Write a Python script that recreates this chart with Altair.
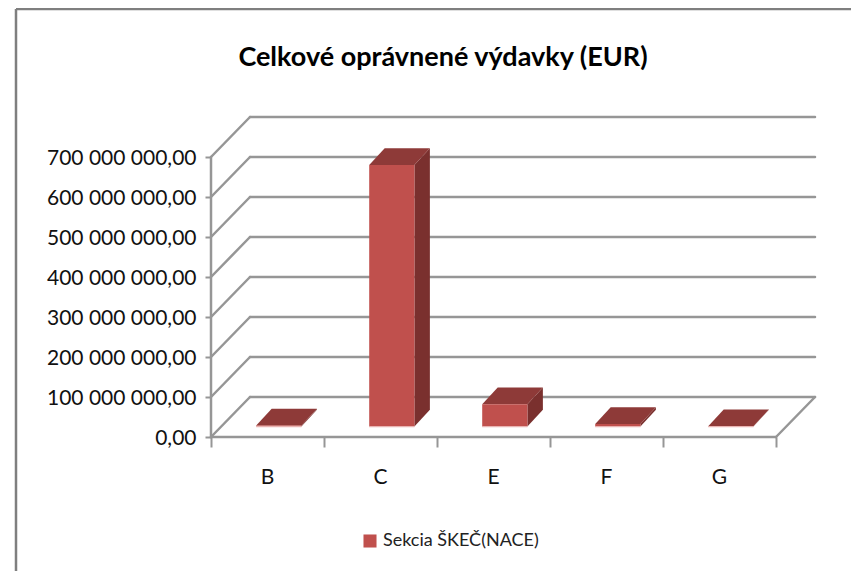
import altair as alt
import pandas as pd

categories = ["B", "C", "E", "F", "G"]
values = [2500000, 654000000, 56000000, 6500000, 1000000]
y_ticks = [0, 100000000, 200000000, 300000000, 400000000, 500000000, 600000000, 700000000]
series_name = "Sekcia ŠKEČ(NACE)"

# 3D projection expressed in data units (category units / EUR)
WALL_DX, WALL_DY = 0.345, 100000000
BASE_DX, BASE_DY = 0.10, 26000000
BAR_DX, BAR_DY = 0.137, 42000000
BAR_HALF = 0.2

GRID = "#969696"
FONT = "Lato"
FACE, TOP, SIDE = "#c0504d", "#8e3a38", "#7a302e"

X = alt.X("x:Q", scale=alt.Scale(domain=[0, 5 + WALL_DX], nice=False),
          axis=alt.Axis(values=[0, 1, 2, 3, 4, 5], labels=False, domain=False, grid=False, title=None,
                        ticks=True, tickSize=10, tickColor=GRID, tickWidth=2))
Y = alt.Y("y:Q", stack=None, scale=alt.Scale(domain=[0, 800000000], nice=False),
          axis=alt.Axis(values=y_ticks, domain=False, grid=False, title=None, tickSize=6, tickColor=GRID,
                        tickWidth=2, labelPadding=9, labelFont=FONT, labelFontSize=21, labelColor="#111111",
                        labelOffset=1.5,
                        labelExpr="replace(replace(format(datum.value,',.2f'),/,/g,' '),'.',',')"))

grid_rows = []
for v in y_ticks:
    grid_rows.append({"x": WALL_DX, "x2": 5 + WALL_DX, "y": v + WALL_DY, "y2": v + WALL_DY})
    grid_rows.append({"x": 0, "x2": WALL_DX, "y": v, "y2": v + WALL_DY})
grid_rows.append({"x": 5, "x2": 5 + WALL_DX, "y": 0, "y2": WALL_DY})
grid_rows.append({"x": 0, "x2": 5, "y": 0, "y2": 0})
grid_rows.append({"x": 0, "x2": 0, "y": 0, "y2": y_ticks[-1]})
grid = alt.Chart(pd.DataFrame(grid_rows)).mark_rule(color=GRID, strokeWidth=2.5, strokeCap="round").encode(
    x=X, x2="x2:Q", y=Y, y2="y2:Q")

front_rows, top_rows, side_rows, edge_rows = [], [], [], []
for i, (c, v) in enumerate(zip(categories, values)):
    x0 = i + 0.5 + BASE_DX - BAR_HALF
    x1 = i + 0.5 + BASE_DX + BAR_HALF
    y0 = BASE_DY
    yv = BASE_DY + v
    front_rows.append({"x": x0, "x2": x1, "y": yv, "y2": y0, "series": series_name})
    edge_rows.append({"x": x0, "x2": x1, "y": y0})
    side_rows += [{"c": c, "x": x1, "y": y0, "y2": yv},
                  {"c": c, "x": x1 + BAR_DX, "y": y0 + BAR_DY, "y2": yv + BAR_DY}]
    top_rows += [{"c": c, "x": x0, "y": yv, "y2": yv},
                 {"c": c, "x": x0 + BAR_DX, "y": yv, "y2": yv + BAR_DY},
                 {"c": c, "x": x1, "y": yv, "y2": yv + BAR_DY},
                 {"c": c, "x": x1 + BAR_DX, "y": yv + BAR_DY, "y2": yv + BAR_DY}]

side = alt.Chart(pd.DataFrame(side_rows)).mark_area(color=SIDE, interpolate="linear").encode(
    x=X, y=Y, y2="y2:Q", detail="c:N")
top = alt.Chart(pd.DataFrame(top_rows)).mark_area(color=TOP, interpolate="linear").encode(
    x=X, y=Y, y2="y2:Q", detail="c:N")
front = alt.Chart(pd.DataFrame(front_rows)).mark_rect().encode(
    x=X, x2="x2:Q", y=Y, y2="y2:Q",
    color=alt.Color("series:N", scale=alt.Scale(domain=[series_name], range=[FACE]),
                    legend=alt.Legend(title=None, orient="none", legendX=150, legendY=415, symbolType="square",
                                      symbolSize=170, labelFont=FONT, labelFontSize=18, labelColor="#222222",
                                      symbolStrokeWidth=0, padding=0, labelOffset=4, labelLimit=300)))
base_edge = alt.Chart(pd.DataFrame(edge_rows)).mark_rule(color="#e9b4b2", strokeWidth=1.2).encode(
    x=X, x2="x2:Q", y=Y)

cat_df = pd.DataFrame({"x": [i + 0.5 for i in range(len(categories))], "y": [0] * len(categories), "label": categories})
cat_text = alt.Chart(cat_df).mark_text(font=FONT, fontSize=21, color="#111111", dy=41).encode(
    x=X, y=Y, text="label:N")

frame_left = alt.Chart(pd.DataFrame({"a": [0]})).mark_rule(color="#7f7f7f", strokeWidth=2.5).encode(
    x=alt.value(-195), y=alt.value(-108), y2=alt.value(460))
frame_top = alt.Chart(pd.DataFrame({"a": [0]})).mark_rule(color="#7f7f7f", strokeWidth=2.5).encode(
    x=alt.value(-195), x2=alt.value(640), y=alt.value(-108))

chart = alt.layer(grid, side, top, front, base_edge, cat_text, frame_left, frame_top).properties(
    width=604, height=320,
    padding={"left": 203, "top": 109, "right": 38, "bottom": 134},
    autosize=alt.AutoSizeParams(type="none"),
    background="white",
    title=alt.TitleParams("Celkové oprávnené výdavky (EUR)", font=FONT, fontSize=27, fontWeight="bold",
                          color="#000000", anchor="middle", frame="group", dx=-70, dy=64, offset=0),
).configure_view(stroke=None)

chart.save("out.html", embed_options={"renderer": "svg", "actions": False})
